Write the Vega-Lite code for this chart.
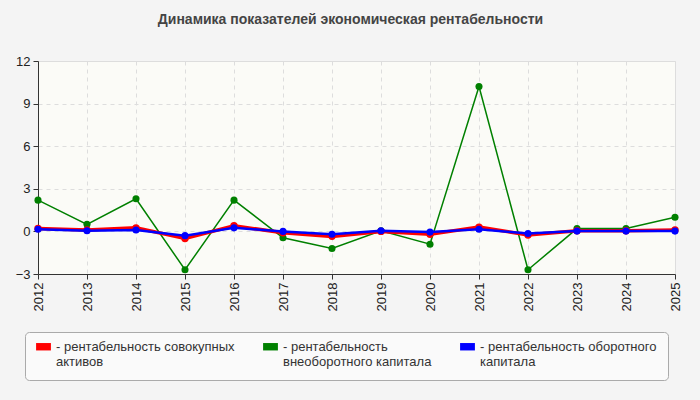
{
  "$schema": "https://vega.github.io/schema/vega-lite/v6.json",
  "width": 637,
  "height": 213,
  "autosize": {"type": "none"},
  "padding": {"left": 38, "top": 61, "right": 25, "bottom": 126},
  "background": "#f4f4f4",
  "title": {
    "text": "Динамика показателей экономическая рентабельности",
    "font": "Liberation Sans",
    "fontSize": 14,
    "fontWeight": "bold",
    "color": "#444444",
    "offset": 28,
    "dx": -6
  },
  "config": {
    "view": {"fill": "#fbfbf7", "stroke": "#dddddd"},
    "axis": {
      "labelFont": "Liberation Sans",
      "labelFontSize": 13,
      "labelColor": "#222222",
      "domainColor": "#333333",
      "tickColor": "#333333",
      "tickSize": 5,
      "gridColor": "#dddddd",
      "gridDash": [4, 4],
      "title": null
    }
  },
  "data": {
    "values": [
      {"year": "2012", "series": "рентабельность внеоборотного капитала", "value": 2.2},
      {"year": "2013", "series": "рентабельность внеоборотного капитала", "value": 0.5},
      {"year": "2014", "series": "рентабельность внеоборотного капитала", "value": 2.3},
      {"year": "2015", "series": "рентабельность внеоборотного капитала", "value": -2.7},
      {"year": "2016", "series": "рентабельность внеоборотного капитала", "value": 2.2},
      {"year": "2017", "series": "рентабельность внеоборотного капитала", "value": -0.45},
      {"year": "2018", "series": "рентабельность внеоборотного капитала", "value": -1.2},
      {"year": "2019", "series": "рентабельность внеоборотного капитала", "value": 0.05},
      {"year": "2020", "series": "рентабельность внеоборотного капитала", "value": -0.9},
      {"year": "2021", "series": "рентабельность внеоборотного капитала", "value": 10.2},
      {"year": "2022", "series": "рентабельность внеоборотного капитала", "value": -2.7},
      {"year": "2023", "series": "рентабельность внеоборотного капитала", "value": 0.2},
      {"year": "2024", "series": "рентабельность внеоборотного капитала", "value": 0.2},
      {"year": "2025", "series": "рентабельность внеоборотного капитала", "value": 1.0},
      {"year": "2012", "series": "рентабельность совокупных активов", "value": 0.2},
      {"year": "2013", "series": "рентабельность совокупных активов", "value": 0.1},
      {"year": "2014", "series": "рентабельность совокупных активов", "value": 0.25},
      {"year": "2015", "series": "рентабельность совокупных активов", "value": -0.5},
      {"year": "2016", "series": "рентабельность совокупных активов", "value": 0.4},
      {"year": "2017", "series": "рентабельность совокупных активов", "value": -0.1},
      {"year": "2018", "series": "рентабельность совокупных активов", "value": -0.35},
      {"year": "2019", "series": "рентабельность совокупных активов", "value": 0.0},
      {"year": "2020", "series": "рентабельность совокупных активов", "value": -0.2},
      {"year": "2021", "series": "рентабельность совокупных активов", "value": 0.3},
      {"year": "2022", "series": "рентабельность совокупных активов", "value": -0.25},
      {"year": "2023", "series": "рентабельность совокупных активов", "value": 0.05},
      {"year": "2024", "series": "рентабельность совокупных активов", "value": 0.05},
      {"year": "2025", "series": "рентабельность совокупных активов", "value": 0.1},
      {"year": "2012", "series": "рентабельность оборотного капитала", "value": 0.15},
      {"year": "2013", "series": "рентабельность оборотного капитала", "value": 0.05},
      {"year": "2014", "series": "рентабельность оборотного капитала", "value": 0.1},
      {"year": "2015", "series": "рентабельность оборотного капитала", "value": -0.3},
      {"year": "2016", "series": "рентабельность оборотного капитала", "value": 0.25},
      {"year": "2017", "series": "рентабельность оборотного капитала", "value": 0.0},
      {"year": "2018", "series": "рентабельность оборотного капитала", "value": -0.2},
      {"year": "2019", "series": "рентабельность оборотного капитала", "value": 0.05},
      {"year": "2020", "series": "рентабельность оборотного капитала", "value": -0.05},
      {"year": "2021", "series": "рентабельность оборотного капитала", "value": 0.15},
      {"year": "2022", "series": "рентабельность оборотного капитала", "value": -0.15},
      {"year": "2023", "series": "рентабельность оборотного капитала", "value": 0.02},
      {"year": "2024", "series": "рентабельность оборотного капитала", "value": 0.02},
      {"year": "2025", "series": "рентабельность оборотного капитала", "value": 0.02}
    ]
  },
  "encoding": {
    "x": {
      "field": "year",
      "type": "ordinal",
      "scale": {"type": "point", "padding": 0},
      "axis": {"labelAngle": -90, "labelAlign": "right", "labelBaseline": "middle", "grid": true, "labelPadding": 3}
    },
    "y": {
      "field": "value",
      "type": "quantitative",
      "scale": {"domain": [-3, 12], "nice": false, "zero": false},
      "axis": {"values": [-3, 0, 3, 6, 9, 12], "grid": true, "labelPadding": 3}
    },
    "color": {
      "field": "series",
      "type": "nominal",
      "scale": {
        "domain": ["рентабельность совокупных активов", "рентабельность внеоборотного капитала", "рентабельность оборотного капитала"],
        "range": ["#ff0000", "#008000", "#0000ff"]
      },
      "legend": {
        "orient": "none",
        "legendX": -13,
        "legendY": 271,
        "direction": "horizontal",
        "columns": 3,
        "title": null,
        "fillColor": "#fafafa",
        "strokeColor": "#aaaaaa",
        "cornerRadius": 4,
        "padding": 11,
        "columnPadding": 28,
        "symbolType": "M-1,-1.04H1V-0.04H-1Z",
        "symbolSize": 220,
        "symbolStrokeWidth": 0,
        "symbolOpacity": 1,
        "labelFont": "Liberation Sans",
        "labelFontSize": 13,
        "labelColor": "#333333",
        "labelLimit": 300,
        "labelOffset": 5,
        "labelBaseline": "alphabetic",
        "labelExpr": "datum.label == 'рентабельность совокупных активов' ? ['- рентабельность совокупных', 'активов'] : datum.label == 'рентабельность внеоборотного капитала' ? ['- рентабельность', 'внеоборотного капитала'] : ['- рентабельность оборотного', 'капитала']"
      }
    },
    "order": {"field": "series"}
  },
  "layer": [
    {
      "transform": [{"filter": "datum.series == 'рентабельность внеоборотного капитала'"}],
      "mark": {"type": "line", "strokeWidth": 1.5, "point": {"filled": true, "size": 50}}
    },
    {
      "transform": [{"filter": "datum.series == 'рентабельность совокупных активов'"}],
      "mark": {"type": "line", "strokeWidth": 3.5, "point": {"filled": true, "size": 55}}
    },
    {
      "transform": [{"filter": "datum.series == 'рентабельность оборотного капитала'"}],
      "mark": {"type": "line", "strokeWidth": 2.5, "point": {"filled": true, "size": 50}}
    }
  ]
}
